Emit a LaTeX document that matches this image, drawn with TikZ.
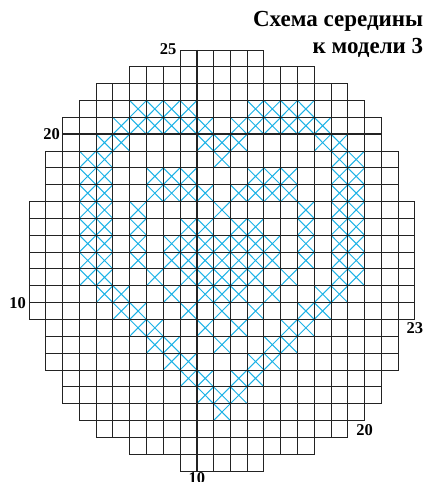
\documentclass[tikz,border=0pt]{standalone}
\usepackage{fontspec}
\setmainfont{Liberation Serif}
\usetikzlibrary{positioning}
\definecolor{stitchblue}{RGB}{28,178,230}
\definecolor{gridgray}{RGB}{35,35,35}

\begin{document}
\begin{tikzpicture}[
  x=16.78pt, y=-16.84pt,
  font=\bfseries\fontsize{16.5}{18}\selectfont,
  cell/.style={draw=gridgray, line width=0.9pt},
  major/.style={draw=gridgray, line width=1.6pt},
  stitch/.style={draw=stitchblue, line width=1pt},
  num/.style={inner sep=0pt},
  title/.style={inner sep=0pt, font=\bfseries\fontsize{23}{26}\selectfont}
]
\useasboundingbox (-1.728,-2.969) rectangle (24.136,25.653);

% Cross stitches, row by row (row / columns).
\foreach \r/\cols in {
  3/{6,7,8,9,13,14,15,16},
  4/{5,6,7,8,9,10,12,13,14,15,16,17},
  5/{4,5,10,11,12,17,18},
  6/{3,4,11,18,19},
  7/{3,4,7,8,9,13,14,15,18,19},
  8/{3,4,7,8,9,10,12,13,14,15,18,19},
  9/{3,4,6,11,16,18,19},
  10/{3,4,6,9,10,12,13,16,18,19},
  11/{3,4,6,8,9,10,11,12,13,14,16,18,19},
  12/{3,4,6,8,9,10,11,12,13,14,16,18,19},
  13/{3,4,7,9,10,11,12,13,15,18,19},
  14/{4,5,8,10,11,12,14,17,18},
  15/{5,6,9,11,13,16,17},
  16/{6,7,10,12,15,16},
  17/{7,8,11,14,15},
  18/{8,9,13,14},
  19/{9,10,12,13},
  20/{10,11,12},
  21/{11}}
  \foreach \c in \cols
    \draw[stitch] (\c,\r) -- ++(1,1) (\c+1,\r) -- ++(-1,1);

% Grid: row / first column / last column.
\foreach \r/\a/\b in {0/9/13, 1/6/16, 2/4/18, 3/3/19, 4/2/20, 5/2/20,
    6/1/21, 7/1/21, 8/1/21, 9/0/22, 10/0/22, 11/0/22, 12/0/22, 13/0/22,
    14/0/22, 15/0/22, 16/1/21, 17/1/21, 18/1/21, 19/2/20, 20/2/20,
    21/3/19, 22/4/18, 23/6/16, 24/9/13}
  \foreach \c in {\a,...,\b}
    \draw[cell] (\c,\r) rectangle ++(1,1);

% Every tenth line is heavier.
\draw[major] (10,0) -- (10,25);
\draw[major] (20,3) -- (20,22);
\draw[major] (2,5) -- (21,5);
\draw[major] (0,15) -- (23,15);

% Row and column counts.
\node[num, anchor=east] (top25) at (8.8,-0.05) {25};
\node[num, anchor=east] (left20) at (1.85,5) {20};
\node[num, anchor=east] (left10) at (-0.18,15) {10};
\node[num] (right23) at (23,16.5) {23};
\node[num] (low20) at (20,22.57) {20};
\node[num] (bottom10) at (10,25.45) {10};

% Title, set flush right.
\node[title, anchor=base east] (title1) at (23.5,-1.4) {Схема середины};
\node[title, anchor=base east] (title2) at ([yshift=-26.6pt]title1.base east) {к модели 3};
\end{tikzpicture}
\end{document}
